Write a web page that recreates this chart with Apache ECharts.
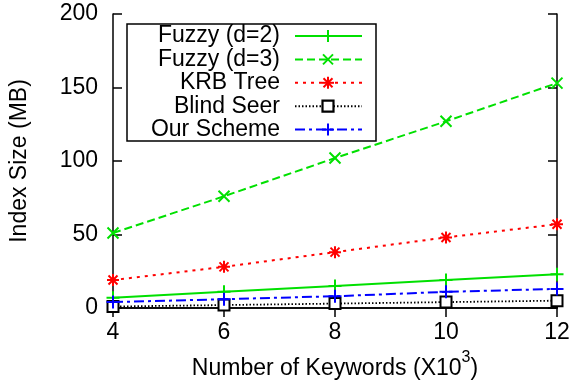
<!DOCTYPE html>
<html>
<head>
<meta charset="utf-8">
<script src="https://cdn.jsdelivr.net/npm/echarts@6/dist/echarts.min.js"></script>
<style>
  html, body { margin: 0; padding: 0; background: #fff; }
  #chart { width: 573px; height: 385px; }
</style>
</head>
<body>
<div id="chart"></div>
<script>
// Number of keywords (thousands)
const keywords = [4, 6, 8, 10, 12];
// Index size in MB for each scheme
const fuzzyD2 = [7, 11, 15, 19, 23];
const fuzzyD3 = [51, 76, 102, 127, 153];
const krbTree = [19, 28, 38, 48, 57];
const blindSeer = [1, 2, 3, 4, 5];
const ourScheme = [4, 6, 8, 11, 13];
const seriesNames = ['Fuzzy (d=2)', 'Fuzzy (d=3)', 'KRB Tree', 'Blind Seer', 'Our Scheme'];
const yTicks = [0, 50, 100, 150, 200];

const FONT = '"Liberation Sans", Arial, sans-serif';
const FS = 23;
const GREEN = '#00e000';
const RED = '#ff0000';
const BLUE = '#0000ff';

const PLUS = 'path://M0,-1L0,1M-1,0L1,0';
const CROSS = 'path://M-1,-1L1,1M-1,1L1,-1';
const STAR = 'path://M0,-1L0,1M-1,0L1,0M-0.75,-0.75L0.75,0.75M-0.75,0.75L0.75,-0.75';

const styles = [
  { color: GREEN, type: 'solid', symbol: PLUS, size: 13, data: fuzzyD2 },
  { color: GREEN, type: [8, 4], symbol: CROSS, size: 11, data: fuzzyD3 },
  { color: RED, type: [3, 5], symbol: STAR, size: 12, data: krbTree },
  { color: '#000', type: [1.5, 2], symbol: 'emptyRect', size: 11, data: blindSeer },
  { color: BLUE, type: [10, 4, 3, 4], symbol: PLUS, size: 13, data: ourScheme }
];

const chart = echarts.init(document.getElementById('chart'));

const series = styles.map((s, i) => ({
  name: seriesNames[i],
  type: 'line',
  data: keywords.map((k, j) => [k, s.data[j]]),
  symbol: s.symbol,
  symbolSize: s.size,
  showAllSymbol: true,
  clip: false,
  lineStyle: { color: s.color, width: s.color === '#000' ? 1.8 : 2, type: s.type },
  itemStyle: s.symbol === 'emptyRect'
    ? { color: '#000', borderColor: '#000', borderWidth: 2.2 }
    : { color: s.color, borderColor: s.color, borderWidth: 2 },
  z: 3 + i,
  animation: false,
  silent: true
}));

// Legend, drawn as a framed box with right-aligned labels and line samples
const legendX = 127, legendY = 24, legendW = 249, legendH = 117;
const rowY0 = 36, rowStep = 23.4;
const graphics = [{
  type: 'rect',
  shape: { x: legendX, y: legendY, width: legendW, height: legendH },
  style: { fill: '#fff', stroke: '#000', lineWidth: 1.5 },
  z: 20
}];
styles.forEach((s, i) => {
  const y = rowY0 + i * rowStep;
  graphics.push({
    type: 'text',
    x: 280, y: y,
    style: { text: seriesNames[i], font: FS + 'px ' + FONT, fill: '#000', align: 'right', verticalAlign: 'middle' },
    z: 21
  });
  graphics.push({
    type: 'line',
    shape: { x1: 295, y1: y, x2: 362, y2: y },
    style: { stroke: s.color, lineWidth: 2, lineDash: s.type === 'solid' ? null : s.type },
    z: 21
  });
});
// Legend sample markers, built from short strokes
const mk = 328;
const seg = (x1, y1, x2, y2, color) => graphics.push({
  type: 'line', shape: { x1: mk + x1, y1: y1, x2: mk + x2, y2: y2 },
  style: { stroke: color, lineWidth: 2 }, z: 22
});
const plus = (y, c) => { seg(0, y - 6, 0, y + 6, c); seg(-6, y, 6, y, c); };
const cross = (y, c, r) => { seg(-r, y - r, r, y + r, c); seg(-r, y + r, r, y - r, c); };
plus(rowY0, GREEN);
cross(rowY0 + rowStep, GREEN, 5);
plus(rowY0 + 2 * rowStep, RED);
cross(rowY0 + 2 * rowStep, RED, 4.5);
graphics.push({
  type: 'rect', shape: { x: mk - 5.5, y: rowY0 + 3 * rowStep - 5.5, width: 11, height: 11 },
  style: { fill: '#fff', stroke: '#000', lineWidth: 2.2 }, z: 22
});
plus(rowY0 + 4 * rowStep, BLUE);

const axisLine = { show: true, lineStyle: { color: '#000', width: 1.5 } };
const axisTick = { show: true, inside: true, length: 9, lineStyle: { color: '#000', width: 1.5 } };
const labelStyle = { color: '#000', fontSize: FS, fontFamily: FONT };

chart.setOption({
  backgroundColor: '#fff',
  animation: false,
  grid: { left: 113, right: 16, top: 14, bottom: 77, containLabel: false },
  xAxis: [{
    type: 'value', min: 4, max: 12, interval: 2, position: 'bottom',
    axisLine, axisTick, splitLine: { show: false },
    axisLabel: Object.assign({ margin: 13 }, labelStyle),
    name: '{a|Number of Keywords (X10}{s|3}{a|)}',
    nameLocation: 'middle', nameGap: 46,
    nameTextStyle: {
      rich: {
        a: { fontSize: FS, fontFamily: FONT, color: '#000', verticalAlign: 'bottom', lineHeight: 26 },
        s: { fontSize: 16, fontFamily: FONT, color: '#000', verticalAlign: 'bottom', lineHeight: 18, padding: [0, 0, 14, 0] }
      }
    }
  }, {
    type: 'value', min: 4, max: 12, interval: 2, position: 'top',
    axisLine, axisTick, axisLabel: { show: false }, splitLine: { show: false }
  }],
  yAxis: [{
    type: 'value', min: yTicks[0], max: yTicks[yTicks.length - 1], interval: 50, position: 'left',
    axisLine, axisTick, splitLine: { show: false },
    axisLabel: Object.assign({ margin: 15 }, labelStyle),
    name: 'Index Size (MB)', nameLocation: 'middle', nameGap: 82,
    nameTextStyle: { fontSize: FS, fontFamily: FONT, color: '#000' }
  }, {
    type: 'value', min: yTicks[0], max: yTicks[yTicks.length - 1], interval: 50, position: 'right',
    axisLine, axisTick, axisLabel: { show: false }, splitLine: { show: false }
  }],
  series,
  graphic: graphics
});
</script>
</body>
</html>
